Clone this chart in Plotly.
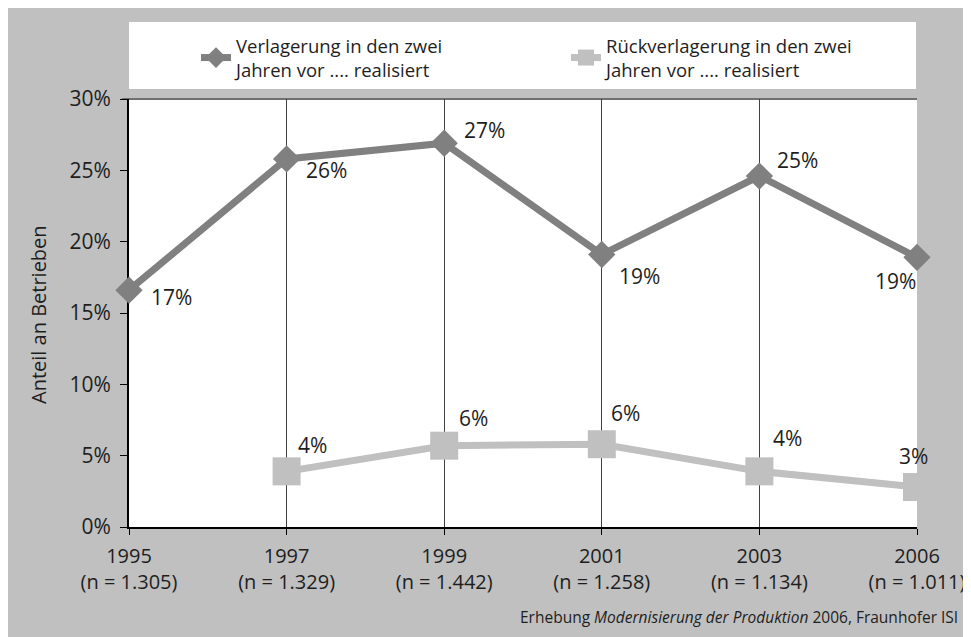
import plotly.graph_objects as go

years = ["1995", "1997", "1999", "2001", "2003", "2006"]
n_values = ["1.305", "1.329", "1.442", "1.258", "1.134", "1.011"]
verlagerung = [16.6, 25.8, 26.9, 19.1, 24.6, 18.9]
rueck_years = ["1997", "1999", "2001", "2003", "2006"]
rueckverlagerung = [3.9, 5.7, 5.8, 3.9, 2.8]
y_ticks = [0, 5, 10, 15, 20, 25, 30]

name_v = "Verlagerung in den zwei<br>Jahren vor .... realisiert"
name_r = "Rückverlagerung in den zwei<br>Jahren vor .... realisiert"

FONT = "Open Sans, Noto Sans, DejaVu Sans, sans-serif"
TXT = "#1e1e1e"
DARK = "#808080"
LIGHT = "#c0c0c0"

# plot-area geometry in figure pixels (for paper-coordinate conversions)
L, R, T, B = 121, 909, 91, 519
W, H = R - L, B - T
def px(x):
    return (x - L) / W
def py(y):
    return (B - y) / H

fig = go.Figure()
fig.add_trace(go.Scatter(
    x=years, y=verlagerung, name=name_v, mode="lines+markers",
    line=dict(color=DARK, width=7),
    marker=dict(symbol="diamond", size=21, color=DARK),
    cliponaxis=False,
))
fig.add_trace(go.Scatter(
    x=rueck_years, y=rueckverlagerung, name=name_r, mode="lines+markers",
    line=dict(color=LIGHT, width=7),
    marker=dict(symbol="square", size=28, color=LIGHT),
    cliponaxis=False,
))

# data labels (offsets in pixels)
off_v = [(42, 7), (40, 11), (40, -13), (38, 21), (38, -16), (-22, 24)]
off_r = [(26, -26), (29, -28), (24, -31), (28, -33), (-4, -31)]
annotations = []
for xv, yv, (dx, dy) in zip(years, verlagerung, off_v):
    annotations.append(dict(xref="x", yref="y", x=years.index(xv), y=yv,
                            text=f"{round(yv)}%", showarrow=False,
                            xshift=dx, yshift=-dy, font=dict(size=21, color=TXT)))
for xv, yv, (dx, dy) in zip(rueck_years, rueckverlagerung, off_r):
    annotations.append(dict(xref="x", yref="y", x=years.index(xv), y=yv,
                            text=f"{round(yv)}%", showarrow=False,
                            xshift=dx, yshift=-dy, font=dict(size=21, color=TXT)))

annotations.append(dict(xref="paper", yref="paper", x=px(30), y=py(307),
                        text="Anteil an Betrieben", textangle=-90, showarrow=False,
                        xanchor="center", yanchor="middle",
                        font=dict(size=20, color=TXT)))
annotations.append(dict(xref="paper", yref="paper", x=px(952), y=py(609),
                        text="Erhebung <i>Modernisierung der Produktion</i> 2006, Fraunhofer ISI",
                        showarrow=False, xanchor="right", yanchor="middle",
                        font=dict(size=15.5, color=TXT)))

shapes = [
    # legend box
    dict(type="rect", xref="paper", yref="paper", x0=0, x1=px(908), y0=py(81), y1=py(14),
         fillcolor="white", line=dict(width=0), layer="below"),
    # top border line
    dict(type="line", xref="paper", yref="paper", x0=px(114), x1=1, y0=1, y1=1,
         line=dict(color="#707070", width=2), layer="below"),
]

fig.update_layout(
    width=971, height=637,
    margin=dict(l=L, r=971 - R, t=T, b=637 - B),
    paper_bgcolor=LIGHT, plot_bgcolor="white",
    font=dict(family=FONT, size=21, color=TXT),
    showlegend=True,
    legend=dict(orientation="h", x=px(188), xanchor="left", y=py(19), yanchor="top",
                bgcolor="rgba(0,0,0,0)", font=dict(size=18.5, color=TXT),
                entrywidth=325, entrywidthmode="pixels", traceorder="normal"),
    annotations=annotations,
    shapes=shapes,
)
fig.update_xaxes(
    type="category", categoryorder="array", categoryarray=years,
    range=[0, len(years) - 1],
    tickvals=years, ticktext=[f"{y}<br>(n = {n})" for y, n in zip(years, n_values)],
    showgrid=True, gridcolor="#404040", gridwidth=1,
    showline=True, linecolor="black", linewidth=2,
    ticks="outside", ticklen=6, tickcolor="black", tickwidth=1,
    ticklabelstandoff=4,
    tickfont=dict(size=20, color=TXT), layer="below traces", zeroline=False,
)
fig.update_yaxes(
    range=[0, 30], tickvals=y_ticks, ticktext=[f"{v}%" for v in y_ticks],
    showgrid=False, showline=True, linecolor="black", linewidth=2,
    ticks="outside", ticklen=7, tickcolor="black", tickwidth=1,
    ticklabelstandoff=5,
    tickfont=dict(size=21, color=TXT), layer="below traces", zeroline=False,
)

fig.write_html("out.html")
